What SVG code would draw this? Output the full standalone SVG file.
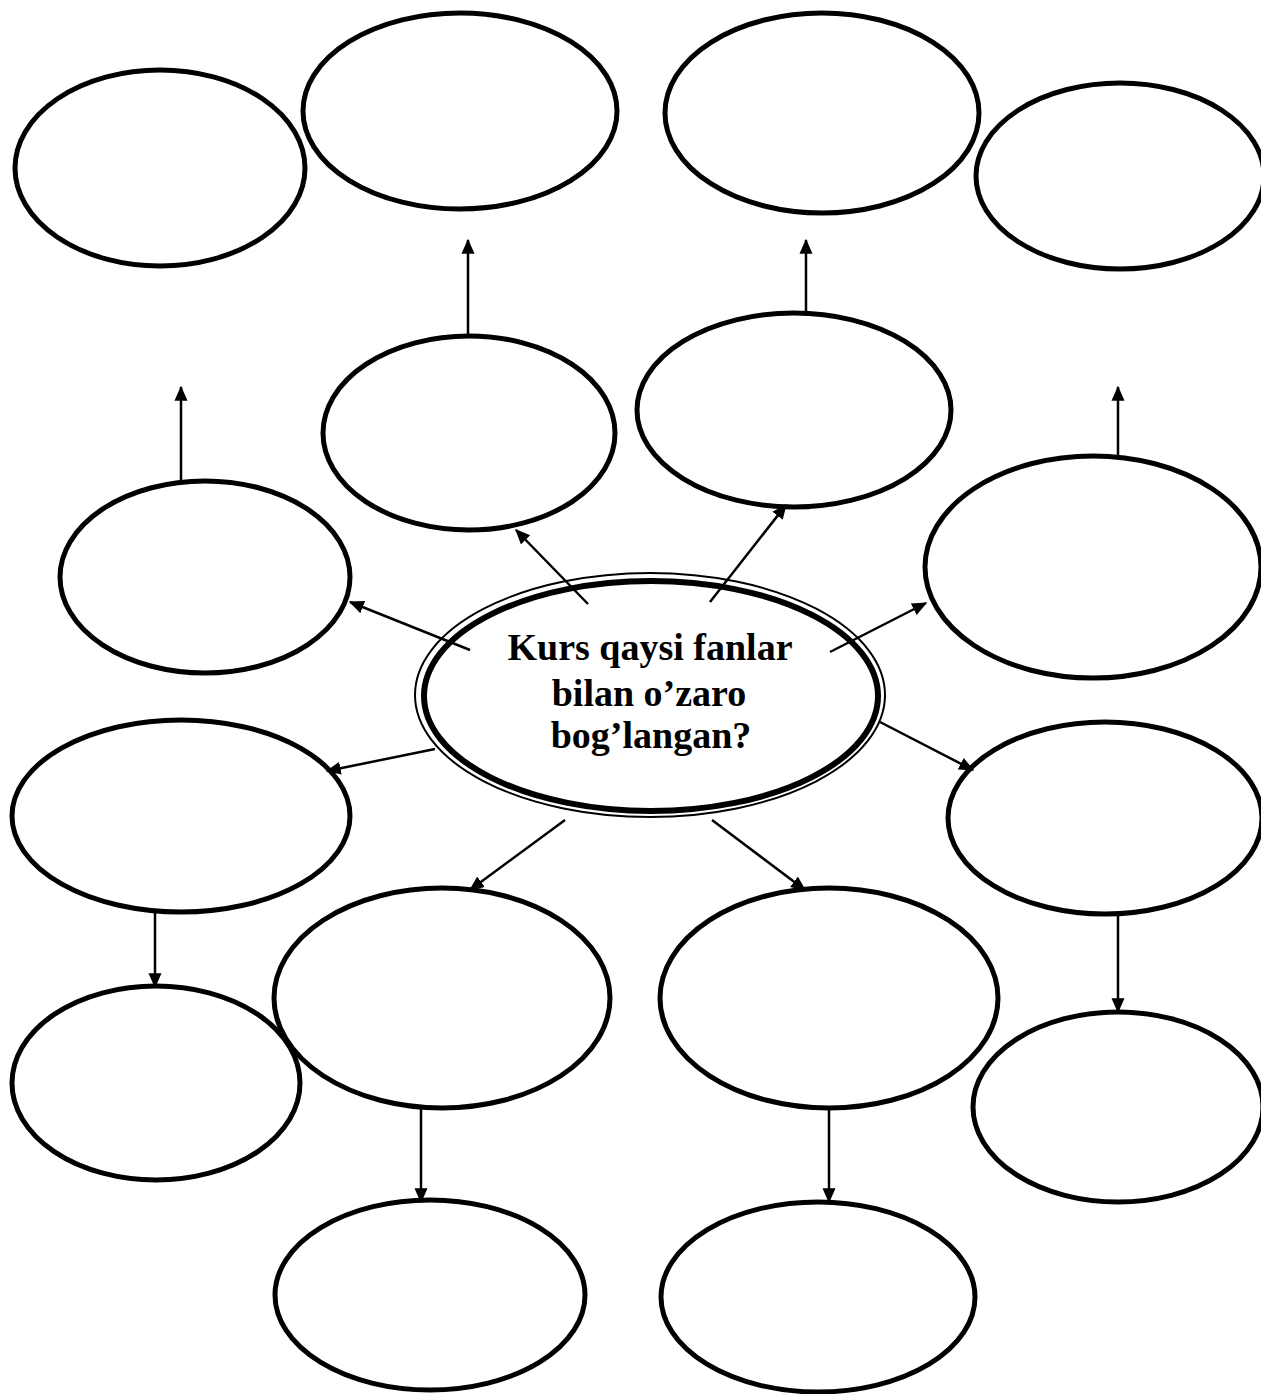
<svg xmlns="http://www.w3.org/2000/svg" width="1261" height="1394" viewBox="0 0 1261 1394">
<style>
.n{fill:#fff;stroke:#000;stroke-width:5}
.c{stroke:#000;stroke-width:2.5;fill:none;marker-end:url(#ah)}
.t{font-family:"Liberation Serif","Times New Roman",serif;font-weight:bold;font-size:38px;text-anchor:middle;fill:#000}
</style>
<defs>
<marker id="ah" markerWidth="6" markerHeight="6" refX="5.5" refY="3" orient="auto" markerUnits="strokeWidth"><path d="M0,0.4 L6,3 L0,5.6 Z" fill="#000"/></marker>
</defs>
<rect width="1261" height="1394" fill="#fff"/>
<g id="n1"><ellipse class="n" cx="160" cy="168" rx="145" ry="98"/></g>
<g id="n2"><ellipse class="n" cx="460" cy="111" rx="157" ry="98"/></g>
<g id="n3"><ellipse class="n" cx="822" cy="113" rx="157" ry="100"/></g>
<g id="n4"><ellipse class="n" cx="1120" cy="176" rx="144" ry="93"/></g>
<g id="n5"><ellipse class="n" cx="469" cy="433" rx="146" ry="97"/></g>
<g id="n6"><ellipse class="n" cx="794" cy="410" rx="157" ry="97"/></g>
<g id="n7"><ellipse class="n" cx="205" cy="577" rx="145" ry="96"/></g>
<g id="n8"><ellipse class="n" cx="1093" cy="567" rx="168" ry="111"/></g>
<g id="n9"><ellipse class="n" cx="181" cy="816" rx="169" ry="96"/></g>
<g id="n10"><ellipse class="n" cx="1105" cy="818" rx="157" ry="96"/></g>
<g id="n11"><ellipse class="n" cx="156" cy="1083" rx="144" ry="97"/></g>
<g id="n12"><ellipse class="n" cx="442" cy="998" rx="168" ry="110"/></g>
<g id="n13"><ellipse class="n" cx="829" cy="998" rx="169" ry="110"/></g>
<g id="n14"><ellipse class="n" cx="1118" cy="1107" rx="145" ry="95"/></g>
<g id="n15"><ellipse class="n" cx="430" cy="1295" rx="155" ry="95"/></g>
<g id="n16"><ellipse class="n" cx="818" cy="1297" rx="157" ry="95"/></g>
<g id="center">
<ellipse cx="650" cy="695" rx="235" ry="122" fill="#fff" stroke="#000" stroke-width="2"/>
<ellipse cx="651" cy="696" rx="227" ry="115" fill="none" stroke="#000" stroke-width="6"/>
<text class="t" x="650" y="660">Kurs qaysi fanlar</text>
<text class="t" x="649" y="706">bilan o’zaro</text>
<text class="t" x="651" y="748">bog’langan?</text>
</g>
<g id="connectors">
<line class="c" x1="468" y1="337" x2="468" y2="240"/>
<line class="c" x1="806" y1="313" x2="806" y2="240"/>
<line class="c" x1="181" y1="481" x2="181" y2="387"/>
<line class="c" x1="1118" y1="456" x2="1118" y2="387"/>
<line class="c" x1="588" y1="604" x2="516" y2="530"/>
<line class="c" x1="710" y1="602" x2="786" y2="505"/>
<line class="c" x1="470" y1="650" x2="350" y2="602"/>
<line class="c" x1="830" y1="652" x2="926" y2="603"/>
<line class="c" x1="435" y1="749" x2="327" y2="771"/>
<line class="c" x1="880" y1="722" x2="973" y2="770"/>
<line class="c" x1="565" y1="820" x2="470" y2="890"/>
<line class="c" x1="712" y1="820" x2="805" y2="890"/>
<line class="c" x1="155" y1="912" x2="155" y2="987"/>
<line class="c" x1="1118" y1="915" x2="1118" y2="1012"/>
<line class="c" x1="421" y1="1108" x2="421" y2="1202"/>
<line class="c" x1="829" y1="1108" x2="829" y2="1202"/>
</g>
</svg>
